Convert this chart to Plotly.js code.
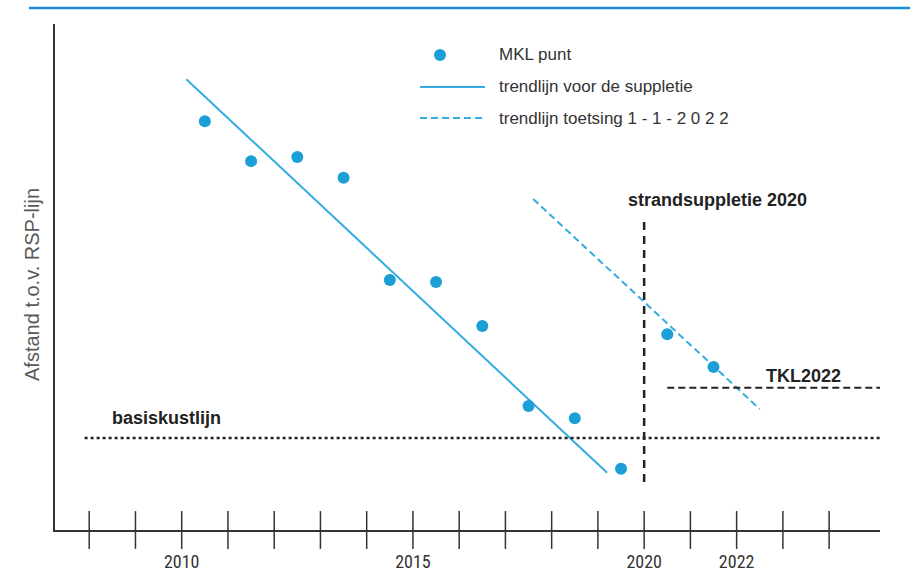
<!DOCTYPE html>
<html>
<head>
<meta charset="utf-8">
<script src="https://cdn.plot.ly/plotly-3.0.1.min.js"></script>
<style>
html,body{margin:0;padding:0;background:#fff;}
#chart{width:910px;height:584px;}
</style>
</head>
<body>
<div id="chart"></div>
<script>
// ---- data ----
const mklYears = [2010.5, 2011.5, 2012.5, 2013.5, 2014.5, 2015.5, 2016.5, 2017.5, 2018.5, 2019.5, 2020.5, 2021.5];
const mklValues = [80.8, 72.9, 73.7, 69.6, 49.4, 49.0, 40.3, 24.5, 22.1, 12.1, 38.7, 32.2];
const trendVoorYears = [2010.1, 2019.2];
const trendVoorValues = [89.1, 11.3];
const trendToetsYears = [2017.6, 2022.5];
const trendToetsValues = [65.4, 23.9];
const supplYear = 2020;
const supplRange = [9.5, 61.3];
const tklValue = 28.1;
const tklYears = [2020.5, 2025.1];
const basisValue = 18.2;
const basisYears = [2007.9, 2025.1];
const tickYears = [2008,2009,2010,2011,2012,2013,2014,2015,2016,2017,2018,2019,2020,2021,2022,2023,2024];
const tickLabelYears = [2010, 2015, 2020, 2022];
const legendLabels = ['MKL punt', 'trendlijn voor de suppletie', 'trendlijn toetsing 1 - 1 - 2 0 2 2'];

// ---- layout helpers (pixel -> paper) ----
const L = 55, R = 880, T = 24, B = 530;
const px = x => (x - L) / (R - L);
const py = y => (B - y) / (B - T);

const blue = '#1b9fd6';
const lineBlue = '#33ade0';

const traces = [
  {x: trendVoorYears, y: trendVoorValues, mode: 'lines', line: {color: lineBlue, width: 2}, showlegend: false, hoverinfo: 'skip'},
  {x: trendToetsYears, y: trendToetsValues, mode: 'lines', line: {color: lineBlue, width: 2, dash: '7px,4px'}, showlegend: false, hoverinfo: 'skip'},
  {x: mklYears, y: mklValues, mode: 'markers', marker: {color: blue, size: 12}, showlegend: false},
  {x: tickYears, y: tickYears.map(() => 0), mode: 'markers', cliponaxis: false,
   marker: {symbol: 'line-ns', size: 27, line: {color: '#333', width: 1.5}}, showlegend: false, hoverinfo: 'skip'}
];

const shapes = [
  // header line
  {type: 'line', xref: 'paper', yref: 'paper', x0: px(29), x1: px(910), y0: py(8), y1: py(8), line: {color: '#1a8fd8', width: 2.5}},
  // suppletie vertical
  {type: 'line', xref: 'x', yref: 'y', x0: supplYear, x1: supplYear, y0: supplRange[0], y1: supplRange[1], line: {color: '#222', width: 2.5, dash: '8px,6px'}},
  // TKL
  {type: 'line', xref: 'x', yref: 'y', x0: tklYears[0], x1: tklYears[1], y0: tklValue, y1: tklValue, line: {color: '#222', width: 2, dash: '7px,4px'}},
  // basiskustlijn
  {type: 'line', xref: 'x', yref: 'y', x0: basisYears[0], x1: basisYears[1], y0: basisValue, y1: basisValue, line: {color: '#222', width: 2.5, dash: 'dot'}},
  // legend symbols
  {type: 'circle', xref: 'paper', yref: 'paper', x0: px(434), x1: px(446), y0: py(61), y1: py(49), fillcolor: blue, line: {width: 0}},
  {type: 'line', xref: 'paper', yref: 'paper', x0: px(420), x1: px(485), y0: py(87), y1: py(87), line: {color: lineBlue, width: 2}},
  {type: 'line', xref: 'paper', yref: 'paper', x0: px(420), x1: px(485), y0: py(118), y1: py(118), line: {color: lineBlue, width: 2, dash: '7px,4px'}}
];

const legendFont = {family: 'Liberation Sans, Arial, sans-serif', size: 17, color: '#333'};
const boldFont = {family: 'Liberation Sans, Arial, sans-serif', size: 18, color: '#222', weight: 'bold'};

const annotations = [
  {xref: 'paper', yref: 'paper', x: px(497), y: py(55), text: legendLabels[0], showarrow: false, xanchor: 'left', yanchor: 'middle', font: legendFont},
  {xref: 'paper', yref: 'paper', x: px(497), y: py(87), text: legendLabels[1], showarrow: false, xanchor: 'left', yanchor: 'middle', font: legendFont},
  {xref: 'paper', yref: 'paper', x: px(497), y: py(118), text: legendLabels[2], showarrow: false, xanchor: 'left', yanchor: 'middle', font: legendFont},
  {xref: 'paper', yref: 'paper', x: px(717), y: py(200), text: '<b>strandsuppletie 2020</b>', showarrow: false, xanchor: 'center', yanchor: 'middle', font: boldFont},
  {xref: 'paper', yref: 'paper', x: px(803), y: py(376), text: '<b>TKL2022</b>', showarrow: false, xanchor: 'center', yanchor: 'middle', font: boldFont},
  {xref: 'paper', yref: 'paper', x: px(166), y: py(418), text: '<b>basiskustlijn</b>', showarrow: false, xanchor: 'center', yanchor: 'middle', font: boldFont},
  {xref: 'paper', yref: 'paper', x: px(32), y: py(285), text: 'Afstand t.o.v. RSP-lijn', textangle: -90, showarrow: false, xanchor: 'center', yanchor: 'middle',
   font: {family: 'Liberation Sans, Arial, sans-serif', size: 20, color: '#5a5a5a'}}
];

const layout = {
  width: 910, height: 584,
  margin: {l: L, r: 910 - R, t: T, b: 584 - B},
  paper_bgcolor: '#fff', plot_bgcolor: '#fff',
  showlegend: false,
  xaxis: {
    range: [2007.26, 2025.1], showgrid: false, zeroline: false,
    showline: true, linecolor: '#333', linewidth: 2,
    tickvals: tickLabelYears, ticktext: tickLabelYears.map(String),
    ticks: 'outside', ticklen: 14, tickcolor: 'rgba(0,0,0,0)',
    tickfont: {family: 'Liberation Sans Narrow, Roboto Condensed, Arial Narrow, sans-serif', size: 18, color: '#333'}
  },
  yaxis: {
    range: [0, 100], showgrid: false, zeroline: false,
    showline: true, linecolor: '#333', linewidth: 2,
    showticklabels: false, ticks: ''
  },
  shapes: shapes,
  annotations: annotations
};

Plotly.newPlot('chart', traces, layout, {displayModeBar: false, staticPlot: true});
</script>
</body>
</html>
